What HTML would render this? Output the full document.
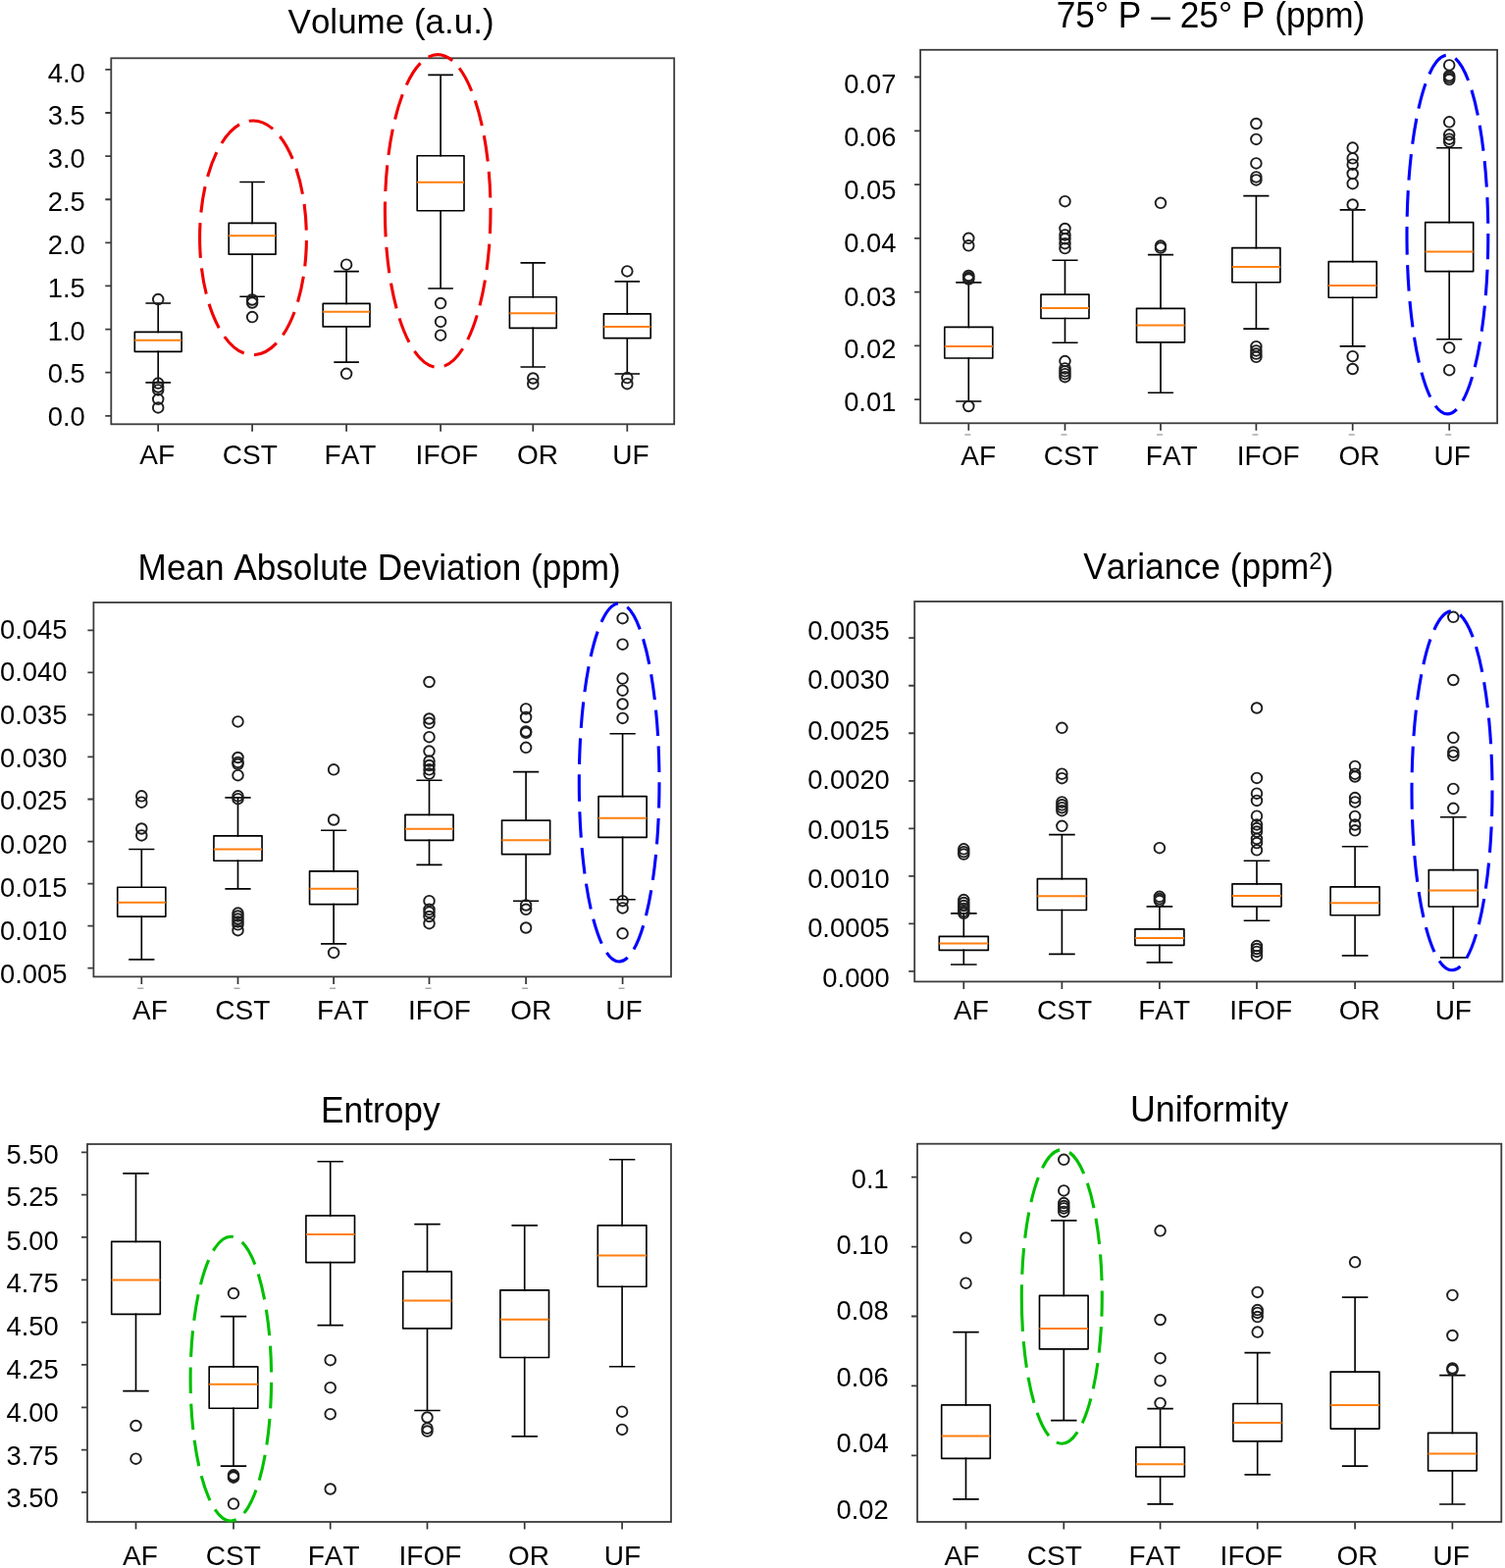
<!DOCTYPE html>
<html><head><meta charset="utf-8"><title>Box plots</title>
<style>
html,body{margin:0;padding:0;background:#fff;}
body{width:1534px;height:1598px;overflow:hidden;}
svg{display:block;}
text{font-family:"Liberation Sans",Arial,Helvetica,sans-serif;fill:#000;font-kerning:none;}
.t{font-size:35.5px;}
.yl{font-size:27.35px;}
.xl{font-size:28.0px;}
.tk{stroke:#3c3c3c;stroke-width:1.8;fill:none;}
.xt{stroke:#333;stroke-width:1.7;fill:none;}
.fd{stroke:#aaa;stroke-width:1.5;fill:none;}
.fr{stroke:#3c3c3c;stroke-width:1.8;fill:none;}
.bx{stroke:#000;stroke-width:1.65;fill:none;stroke-linejoin:round;}
.wk{stroke:#000;stroke-width:1.65;fill:none;stroke-linecap:square;}
.md{stroke:#ff7f0e;stroke-width:2.0;fill:none;}
.o{stroke:#1e1e1e;stroke-width:1.9;fill:none;}
.el{fill:none;stroke-width:3.1;}
</style></head>
<body>
<svg width="1534" height="1598" viewBox="0 0 1534 1598">
<rect width="1534" height="1598" fill="#fff"/>
<text class="t" transform="translate(398.6 34.1) scale(1 1.025)" text-anchor="middle" style="font-size:35px">Volume (a.u.)</text>
<text class="yl" x="86.7" y="83.6" text-anchor="end">4.0</text>
<text class="yl" x="86.7" y="126.9" text-anchor="end">3.5</text>
<text class="yl" x="86.7" y="171" text-anchor="end">3.0</text>
<text class="yl" x="86.7" y="214.9" text-anchor="end">2.5</text>
<text class="yl" x="86.7" y="258.6" text-anchor="end">2.0</text>
<text class="yl" x="86.7" y="302.5" text-anchor="end">1.5</text>
<text class="yl" x="86.7" y="346.7" text-anchor="end">1.0</text>
<text class="yl" x="86.7" y="390.3" text-anchor="end">0.5</text>
<text class="yl" x="86.7" y="434.3" text-anchor="end">0.0</text>
<text class="xl" x="160.1" y="473" text-anchor="middle">AF</text>
<text class="xl" x="254.8" y="473" text-anchor="middle">CST</text>
<text class="xl" x="357" y="473" text-anchor="middle">FAT</text>
<text class="xl" x="455.5" y="473" text-anchor="middle">IFOF</text>
<text class="xl" x="548.1" y="473" text-anchor="middle">OR</text>
<text class="xl" x="643" y="473" text-anchor="middle">UF</text>
<path class="tk" d="M107.3 70.9H113.3M107.3 115.01H113.3M107.3 159.12H113.3M107.3 203.23H113.3M107.3 247.34H113.3M107.3 291.45H113.3M107.3 335.56H113.3M107.3 379.67H113.3M107.3 423.78H113.3"/>
<path class="xt" d="M161.2 432.3V439.8M257.1 432.3V439.8M353.1 432.3V439.8M449.1 432.3V439.8M543.3 432.3V439.8M639.3 432.3V439.8"/>
<rect class="fr" x="113.3" y="59.3" width="573.9" height="373"/>
<path class="wk" d="M161.2 309V338.4 M161.2 358.3V389.8 M149.25 309H173.15 M149.25 389.8H173.15"/>
<rect class="bx" x="137.3" y="338.4" width="47.8" height="19.9"/>
<path class="md" d="M137.3 346.8H185.1"/>
<circle class="o" cx="161.2" cy="305.1" r="5.3"/>
<circle class="o" cx="161.2" cy="390.6" r="5.3"/>
<circle class="o" cx="161.2" cy="394.5" r="5.3"/>
<circle class="o" cx="161.2" cy="397.4" r="5.3"/>
<circle class="o" cx="161.2" cy="406.8" r="5.3"/>
<circle class="o" cx="161.2" cy="415.4" r="5.3"/>
<path class="wk" d="M257.1 185.5V227.4 M257.1 259.2V302.2 M245.15 185.5H269.05 M245.15 302.2H269.05"/>
<rect class="bx" x="233.2" y="227.4" width="47.8" height="31.8"/>
<path class="md" d="M233.2 240.3H281"/>
<circle class="o" cx="257.1" cy="305.5" r="5.3"/>
<circle class="o" cx="257.1" cy="308.5" r="5.3"/>
<circle class="o" cx="257.1" cy="323.1" r="5.3"/>
<path class="wk" d="M353.1 276.6V309.4 M353.1 332.9V369.1 M341.15 276.6H365.05 M341.15 369.1H365.05"/>
<rect class="bx" x="329.2" y="309.4" width="47.8" height="23.5"/>
<path class="md" d="M329.2 317.8H377"/>
<circle class="o" cx="353.1" cy="269.7" r="5.3"/>
<circle class="o" cx="353.1" cy="380.8" r="5.3"/>
<path class="wk" d="M449.1 76.3V158.7 M449.1 214.7V294 M437.15 76.3H461.05 M437.15 294H461.05"/>
<rect class="bx" x="425.2" y="158.7" width="47.8" height="56"/>
<path class="md" d="M425.2 185.8H473"/>
<circle class="o" cx="449.1" cy="309.1" r="5.3"/>
<circle class="o" cx="449.1" cy="327.9" r="5.3"/>
<circle class="o" cx="449.1" cy="341.7" r="5.3"/>
<path class="wk" d="M543.3 267.9V302.7 M543.3 334.4V374 M531.35 267.9H555.25 M531.35 374H555.25"/>
<rect class="bx" x="519.4" y="302.7" width="47.8" height="31.7"/>
<path class="md" d="M519.4 319.2H567.2"/>
<circle class="o" cx="543.3" cy="385.5" r="5.3"/>
<circle class="o" cx="543.3" cy="391.2" r="5.3"/>
<path class="wk" d="M639.3 286.9V319.8 M639.3 344.7V381 M627.35 286.9H651.25 M627.35 381H651.25"/>
<rect class="bx" x="615.4" y="319.8" width="47.8" height="24.9"/>
<path class="md" d="M615.4 333H663.2"/>
<circle class="o" cx="639.3" cy="276.4" r="5.3"/>
<circle class="o" cx="639.3" cy="385.1" r="5.3"/>
<circle class="o" cx="639.3" cy="391.2" r="5.3"/>
<path class="el" d="M203.6 242.35 A54.4 119.4 0 0 0 258 361.75 A54.4 119.4 0 0 0 312.4 242.35 A54.4 119.4 0 0 0 258 122.95 A54.4 119.4 0 0 0 203.6 242.35" stroke="#f00000" pathLength="565.275" stroke-dasharray="20.67 10.49 26.56 10.49 26.56 10.49 26.56 10.49 26.56 10.49 26.56 10.49 26.56 10.49 26.56 10.49 26.56 10.49 26.56 10.49 26.56 10.49 26.56 10.49 26.56 10.49 26.56 10.49 26.56 10.49 18.46 50.00"/>
<path class="el" d="M392.4 214.95 A53.8 159.35 0 0 0 446.2 374.3 A53.8 159.35 0 0 0 500 214.95 A53.8 159.35 0 0 0 446.2 55.6 A53.8 159.35 0 0 0 392.4 214.95" stroke="#f00000" pathLength="711.353" stroke-dasharray="26.46 10.45 26.48 10.45 26.48 10.45 26.48 10.45 26.48 10.45 26.48 10.45 26.48 10.45 26.48 10.45 26.48 10.45 26.48 10.45 26.48 10.45 26.48 10.45 26.48 10.45 26.48 10.45 26.48 10.45 26.48 10.45 26.48 10.45 26.48 10.45 26.48 10.45 12.60 50.00"/>
<text class="t" transform="translate(1234 27.7) scale(1 1.025)" text-anchor="middle" style="font-size:35.3px">75° P – 25° P (ppm)</text>
<text class="yl" x="913.4" y="95.4" text-anchor="end">0.07</text>
<text class="yl" x="913.4" y="148.9" text-anchor="end">0.06</text>
<text class="yl" x="913.4" y="203" text-anchor="end">0.05</text>
<text class="yl" x="913.4" y="257.4" text-anchor="end">0.04</text>
<text class="yl" x="913.4" y="311.5" text-anchor="end">0.03</text>
<text class="yl" x="913.4" y="365.3" text-anchor="end">0.02</text>
<text class="yl" x="913.4" y="419.3" text-anchor="end">0.01</text>
<text class="xl" x="997.2" y="474" text-anchor="middle">AF</text>
<text class="xl" x="1091.8" y="474" text-anchor="middle">CST</text>
<text class="xl" x="1194.3" y="474" text-anchor="middle">FAT</text>
<text class="xl" x="1292.7" y="474" text-anchor="middle">IFOF</text>
<text class="xl" x="1385.6" y="474" text-anchor="middle">OR</text>
<text class="xl" x="1480.2" y="474" text-anchor="middle">UF</text>
<path class="tk" d="M932.1 78.5H938.1M932.1 133.28H938.1M932.1 188.06H938.1M932.1 242.84H938.1M932.1 297.62H938.1M932.1 352.4H938.1M932.1 407.18H938.1"/>
<path class="xt" d="M987.3 431.3V438.8M1085.5 431.3V438.8M1183 431.3V438.8M1280.4 431.3V438.8M1378.7 431.3V438.8M1477.2 431.3V438.8"/>
<path class="fd" d="M983.3 443.1H989.3M1081.5 443.1H1087.5M1179 443.1H1185M1276.4 443.1H1282.4M1374.7 443.1H1380.7M1473.2 443.1H1479.2"/>
<rect class="fr" x="938.1" y="50.8" width="588" height="380.5"/>
<path class="wk" d="M987.3 287.9V333.3 M987.3 365V409 M975.05 287.9H999.55 M975.05 409H999.55"/>
<rect class="bx" x="962.8" y="333.3" width="49" height="31.7"/>
<path class="md" d="M962.8 352.9H1011.8"/>
<circle class="o" cx="987.3" cy="242.8" r="5.3"/>
<circle class="o" cx="987.3" cy="250.3" r="5.3"/>
<circle class="o" cx="987.3" cy="281" r="5.3"/>
<circle class="o" cx="987.3" cy="283" r="5.3"/>
<circle class="o" cx="987.3" cy="284.5" r="5.3"/>
<circle class="o" cx="987.3" cy="414" r="5.3"/>
<path class="wk" d="M1085.5 265.2V300.1 M1085.5 324.5V349.2 M1073.25 265.2H1097.75 M1073.25 349.2H1097.75"/>
<rect class="bx" x="1061" y="300.1" width="49" height="24.4"/>
<path class="md" d="M1061 314.1H1110"/>
<circle class="o" cx="1085.5" cy="205.2" r="5.3"/>
<circle class="o" cx="1085.5" cy="233" r="5.3"/>
<circle class="o" cx="1085.5" cy="239.4" r="5.3"/>
<circle class="o" cx="1085.5" cy="243.3" r="5.3"/>
<circle class="o" cx="1085.5" cy="248.2" r="5.3"/>
<circle class="o" cx="1085.5" cy="253.1" r="5.3"/>
<circle class="o" cx="1085.5" cy="368.1" r="5.3"/>
<circle class="o" cx="1085.5" cy="375.4" r="5.3"/>
<circle class="o" cx="1085.5" cy="378.3" r="5.3"/>
<circle class="o" cx="1085.5" cy="381.2" r="5.3"/>
<circle class="o" cx="1085.5" cy="384.2" r="5.3"/>
<path class="wk" d="M1183 259.6V314.3 M1183 348.8V400.2 M1170.75 259.6H1195.25 M1170.75 400.2H1195.25"/>
<rect class="bx" x="1158.5" y="314.3" width="49" height="34.5"/>
<path class="md" d="M1158.5 331.5H1207.5"/>
<circle class="o" cx="1183" cy="206.8" r="5.3"/>
<circle class="o" cx="1183" cy="250.6" r="5.3"/>
<circle class="o" cx="1183" cy="252.6" r="5.3"/>
<path class="wk" d="M1280.4 199.6V252.6 M1280.4 287.7V335.1 M1268.15 199.6H1292.65 M1268.15 335.1H1292.65"/>
<rect class="bx" x="1255.9" y="252.6" width="49" height="35.1"/>
<path class="md" d="M1255.9 271.9H1304.9"/>
<circle class="o" cx="1280.4" cy="126" r="5.3"/>
<circle class="o" cx="1280.4" cy="141.9" r="5.3"/>
<circle class="o" cx="1280.4" cy="166.4" r="5.3"/>
<circle class="o" cx="1280.4" cy="180.4" r="5.3"/>
<circle class="o" cx="1280.4" cy="183.4" r="5.3"/>
<circle class="o" cx="1280.4" cy="353.2" r="5.3"/>
<circle class="o" cx="1280.4" cy="357.4" r="5.3"/>
<circle class="o" cx="1280.4" cy="360.6" r="5.3"/>
<circle class="o" cx="1280.4" cy="363.8" r="5.3"/>
<path class="wk" d="M1378.7 213.8V266.6 M1378.7 303.2V352.8 M1366.45 213.8H1390.95 M1366.45 352.8H1390.95"/>
<rect class="bx" x="1354.2" y="266.6" width="49" height="36.6"/>
<path class="md" d="M1354.2 291.1H1403.2"/>
<circle class="o" cx="1378.7" cy="150.6" r="5.3"/>
<circle class="o" cx="1378.7" cy="161.3" r="5.3"/>
<circle class="o" cx="1378.7" cy="167.7" r="5.3"/>
<circle class="o" cx="1378.7" cy="177" r="5.3"/>
<circle class="o" cx="1378.7" cy="187.2" r="5.3"/>
<circle class="o" cx="1378.7" cy="208.5" r="5.3"/>
<circle class="o" cx="1378.7" cy="363.2" r="5.3"/>
<circle class="o" cx="1378.7" cy="376" r="5.3"/>
<path class="wk" d="M1477.2 150.7V226.6 M1477.2 276.6V345.7 M1464.95 150.7H1489.45 M1464.95 345.7H1489.45"/>
<rect class="bx" x="1452.7" y="226.6" width="49" height="50"/>
<path class="md" d="M1452.7 256.4H1501.7"/>
<circle class="o" cx="1477.2" cy="66.4" r="5.3"/>
<circle class="o" cx="1477.2" cy="77.2" r="5.3"/>
<circle class="o" cx="1477.2" cy="79.1" r="5.3"/>
<circle class="o" cx="1477.2" cy="81.1" r="5.3"/>
<circle class="o" cx="1477.2" cy="124.3" r="5.3"/>
<circle class="o" cx="1477.2" cy="137.3" r="5.3"/>
<circle class="o" cx="1477.2" cy="141.7" r="5.3"/>
<circle class="o" cx="1477.2" cy="144.6" r="5.3"/>
<circle class="o" cx="1477.2" cy="354.3" r="5.3"/>
<circle class="o" cx="1477.2" cy="377.2" r="5.3"/>
<path class="el" d="M1434 239.05 A41.4 182.85 0 0 0 1475.4 421.9 A41.4 182.85 0 0 0 1516.8 239.05 A41.4 182.85 0 0 0 1475.4 56.2 A41.4 182.85 0 0 0 1434 239.05" stroke="#0000ff" pathLength="776.527" stroke-dasharray="20.75 10.43 26.43 10.43 26.43 10.43 26.43 10.43 26.43 10.43 26.43 10.43 26.43 10.43 26.43 10.43 26.43 10.43 26.43 10.43 26.43 10.43 26.43 10.43 26.43 10.43 26.43 10.43 26.43 10.43 26.43 10.43 26.43 10.43 26.43 10.43 26.43 10.43 26.43 10.43 26.43 10.43 11.20 50.00"/>
<text class="t" transform="translate(386.7 591.1) scale(1 1.025)" text-anchor="middle" style="font-size:35.15px">Mean Absolute Deviation (ppm)</text>
<text class="yl" x="68.5" y="650.7" text-anchor="end">0.045</text>
<text class="yl" x="68.5" y="694.3" text-anchor="end">0.040</text>
<text class="yl" x="68.5" y="737.8" text-anchor="end">0.035</text>
<text class="yl" x="68.5" y="781.8" text-anchor="end">0.030</text>
<text class="yl" x="68.5" y="824.8" text-anchor="end">0.025</text>
<text class="yl" x="68.5" y="870" text-anchor="end">0.020</text>
<text class="yl" x="68.5" y="914" text-anchor="end">0.015</text>
<text class="yl" x="68.5" y="958" text-anchor="end">0.010</text>
<text class="yl" x="68.5" y="1002" text-anchor="end">0.005</text>
<text class="xl" x="152.9" y="1038.5" text-anchor="middle">AF</text>
<text class="xl" x="247.3" y="1038.5" text-anchor="middle">CST</text>
<text class="xl" x="349.5" y="1038.5" text-anchor="middle">FAT</text>
<text class="xl" x="447.9" y="1038.5" text-anchor="middle">IFOF</text>
<text class="xl" x="541.2" y="1038.5" text-anchor="middle">OR</text>
<text class="xl" x="635.9" y="1038.5" text-anchor="middle">UF</text>
<path class="tk" d="M89.4 642.3H95.4M89.4 685.35H95.4M89.4 728.4H95.4M89.4 771.45H95.4M89.4 814.5H95.4M89.4 857.55H95.4M89.4 900.6H95.4M89.4 943.65H95.4M89.4 986.7H95.4"/>
<path class="xt" d="M144.3 995.4V1002.9M242.5 995.4V1002.9M340.1 995.4V1002.9M437.5 995.4V1002.9M536.1 995.4V1002.9M634.6 995.4V1002.9"/>
<path class="fd" d="M140.3 1007.2H146.3M238.5 1007.2H244.5M336.1 1007.2H342.1M433.5 1007.2H439.5M532.1 1007.2H538.1M630.6 1007.2H636.6"/>
<rect class="fr" x="95.4" y="614" width="588.6" height="381.4"/>
<path class="wk" d="M144.3 865.5V904.2 M144.3 934.1V977.9 M132.03 865.5H156.58 M132.03 977.9H156.58"/>
<rect class="bx" x="119.75" y="904.2" width="49.1" height="29.9"/>
<path class="md" d="M119.75 919.8H168.85"/>
<circle class="o" cx="144.3" cy="811.3" r="5.3"/>
<circle class="o" cx="144.3" cy="817.7" r="5.3"/>
<circle class="o" cx="144.3" cy="844.5" r="5.3"/>
<circle class="o" cx="144.3" cy="851.4" r="5.3"/>
<path class="wk" d="M242.5 812.9V851.8 M242.5 877.2V905.8 M230.22 812.9H254.78 M230.22 905.8H254.78"/>
<rect class="bx" x="217.95" y="851.8" width="49.1" height="25.4"/>
<path class="md" d="M217.95 865.5H267.05"/>
<circle class="o" cx="242.5" cy="735.4" r="5.3"/>
<circle class="o" cx="242.5" cy="772" r="5.3"/>
<circle class="o" cx="242.5" cy="776.9" r="5.3"/>
<circle class="o" cx="242.5" cy="778.8" r="5.3"/>
<circle class="o" cx="242.5" cy="790.2" r="5.3"/>
<circle class="o" cx="242.5" cy="811.3" r="5.3"/>
<circle class="o" cx="242.5" cy="814.2" r="5.3"/>
<circle class="o" cx="242.5" cy="930.6" r="5.3"/>
<circle class="o" cx="242.5" cy="933.5" r="5.3"/>
<circle class="o" cx="242.5" cy="936.5" r="5.3"/>
<circle class="o" cx="242.5" cy="939.4" r="5.3"/>
<circle class="o" cx="242.5" cy="942.3" r="5.3"/>
<circle class="o" cx="242.5" cy="948.2" r="5.3"/>
<path class="wk" d="M340.1 846.2V887.9 M340.1 921.6V961.9 M327.83 846.2H352.38 M327.83 961.9H352.38"/>
<rect class="bx" x="315.55" y="887.9" width="49.1" height="33.7"/>
<path class="md" d="M315.55 905.8H364.65"/>
<circle class="o" cx="340.1" cy="784.3" r="5.3"/>
<circle class="o" cx="340.1" cy="835.5" r="5.3"/>
<circle class="o" cx="340.1" cy="970.9" r="5.3"/>
<path class="wk" d="M437.5 795.2V830.3 M437.5 856.3V881.3 M425.23 795.2H449.77 M425.23 881.3H449.77"/>
<rect class="bx" x="412.95" y="830.3" width="49.1" height="26"/>
<path class="md" d="M412.95 844.7H462.05"/>
<circle class="o" cx="437.5" cy="695" r="5.3"/>
<circle class="o" cx="437.5" cy="732.5" r="5.3"/>
<circle class="o" cx="437.5" cy="736.8" r="5.3"/>
<circle class="o" cx="437.5" cy="751.2" r="5.3"/>
<circle class="o" cx="437.5" cy="765.6" r="5.3"/>
<circle class="o" cx="437.5" cy="775.6" r="5.3"/>
<circle class="o" cx="437.5" cy="780" r="5.3"/>
<circle class="o" cx="437.5" cy="784.3" r="5.3"/>
<circle class="o" cx="437.5" cy="788.6" r="5.3"/>
<circle class="o" cx="437.5" cy="918.2" r="5.3"/>
<circle class="o" cx="437.5" cy="926.8" r="5.3"/>
<circle class="o" cx="437.5" cy="929.7" r="5.3"/>
<circle class="o" cx="437.5" cy="934" r="5.3"/>
<circle class="o" cx="437.5" cy="941.2" r="5.3"/>
<path class="wk" d="M536.1 786.6V836.1 M536.1 870.7V918.2 M523.83 786.6H548.38 M523.83 918.2H548.38"/>
<rect class="bx" x="511.55" y="836.1" width="49.1" height="34.6"/>
<path class="md" d="M511.55 856.3H560.65"/>
<circle class="o" cx="536.1" cy="722.4" r="5.3"/>
<circle class="o" cx="536.1" cy="731" r="5.3"/>
<circle class="o" cx="536.1" cy="745.4" r="5.3"/>
<circle class="o" cx="536.1" cy="746.8" r="5.3"/>
<circle class="o" cx="536.1" cy="761.8" r="5.3"/>
<circle class="o" cx="536.1" cy="922.5" r="5.3"/>
<circle class="o" cx="536.1" cy="926.8" r="5.3"/>
<circle class="o" cx="536.1" cy="945.5" r="5.3"/>
<path class="wk" d="M634.6 747.7V811.6 M634.6 853.4V916.7 M622.33 747.7H646.88 M622.33 916.7H646.88"/>
<rect class="bx" x="610.05" y="811.6" width="49.1" height="41.8"/>
<path class="md" d="M610.05 833.8H659.15"/>
<circle class="o" cx="634.6" cy="630.2" r="5.3"/>
<circle class="o" cx="634.6" cy="656.7" r="5.3"/>
<circle class="o" cx="634.6" cy="691.6" r="5.3"/>
<circle class="o" cx="634.6" cy="703.7" r="5.3"/>
<circle class="o" cx="634.6" cy="717.5" r="5.3"/>
<circle class="o" cx="634.6" cy="731.9" r="5.3"/>
<circle class="o" cx="634.6" cy="918.2" r="5.3"/>
<circle class="o" cx="634.6" cy="925.4" r="5.3"/>
<circle class="o" cx="634.6" cy="951.3" r="5.3"/>
<path class="el" d="M590.3 797.5 A40.85 182.5 0 0 0 631.15 980 A40.85 182.5 0 0 0 672 797.5 A40.85 182.5 0 0 0 631.15 615 A40.85 182.5 0 0 0 590.3 797.5" stroke="#0000ff" pathLength="774.218" stroke-dasharray="19.40 10.42 26.38 10.42 26.38 10.42 26.38 10.42 26.38 10.42 26.38 10.42 26.38 10.42 26.38 10.42 26.38 10.42 26.38 10.42 26.38 10.42 26.38 10.42 26.38 10.42 26.38 10.42 26.38 10.42 26.38 10.42 26.38 10.42 26.38 10.42 26.38 10.42 26.38 10.42 26.38 10.42 11.40 50.00"/>
<text class="t" transform="translate(1104.2 589.7) scale(1 1.025)" text-anchor="start" style="font-size:35.4px">Variance (ppm<tspan font-size='23.5' dy='-9.6'>2</tspan><tspan dy='9.6'>)</tspan></text>
<text class="yl" x="906.8" y="651.8" text-anchor="end">0.0035</text>
<text class="yl" x="906.8" y="702.1" text-anchor="end">0.0030</text>
<text class="yl" x="906.8" y="753.5" text-anchor="end">0.0025</text>
<text class="yl" x="906.8" y="803.8" text-anchor="end">0.0020</text>
<text class="yl" x="906.8" y="854.5" text-anchor="end">0.0015</text>
<text class="yl" x="906.8" y="905" text-anchor="end">0.0010</text>
<text class="yl" x="906.8" y="955.3" text-anchor="end">0.0005</text>
<text class="yl" x="906.8" y="1006.1" text-anchor="end">0.000</text>
<text class="xl" x="990" y="1039.4" text-anchor="middle">AF</text>
<text class="xl" x="1085" y="1039.4" text-anchor="middle">CST</text>
<text class="xl" x="1186.6" y="1039.4" text-anchor="middle">FAT</text>
<text class="xl" x="1285.2" y="1039.4" text-anchor="middle">IFOF</text>
<text class="xl" x="1385.8" y="1039.4" text-anchor="middle">OR</text>
<text class="xl" x="1481.3" y="1039.4" text-anchor="middle">UF</text>
<path class="tk" d="M926.2 650.2H932.2M926.2 698.73H932.2M926.2 747.26H932.2M926.2 795.79H932.2M926.2 844.32H932.2M926.2 892.85H932.2M926.2 941.38H932.2M926.2 989.91H932.2"/>
<path class="xt" d="M982.3 1000.4V1007.9M1082.4 1000.4V1007.9M1181.9 1000.4V1007.9M1281 1000.4V1007.9M1381.1 1000.4V1007.9M1481.3 1000.4V1007.9"/>
<rect class="fr" x="932.2" y="613" width="599.2" height="387.4"/>
<path class="wk" d="M982.3 930.8V954.3 M982.3 968.4V983 M969.8 930.8H994.8 M969.8 983H994.8"/>
<rect class="bx" x="957.3" y="954.3" width="50" height="14.1"/>
<path class="md" d="M957.3 961.5H1007.3"/>
<circle class="o" cx="982.3" cy="865.3" r="5.3"/>
<circle class="o" cx="982.3" cy="868.2" r="5.3"/>
<circle class="o" cx="982.3" cy="870.6" r="5.3"/>
<circle class="o" cx="982.3" cy="917.1" r="5.3"/>
<circle class="o" cx="982.3" cy="920.1" r="5.3"/>
<circle class="o" cx="982.3" cy="923" r="5.3"/>
<circle class="o" cx="982.3" cy="925.9" r="5.3"/>
<circle class="o" cx="982.3" cy="928.9" r="5.3"/>
<circle class="o" cx="982.3" cy="930.8" r="5.3"/>
<path class="wk" d="M1082.4 850.6V895.6 M1082.4 927.5V972.3 M1069.9 850.6H1094.9 M1069.9 972.3H1094.9"/>
<rect class="bx" x="1057.4" y="895.6" width="50" height="31.9"/>
<path class="md" d="M1057.4 913.2H1107.4"/>
<circle class="o" cx="1082.4" cy="741.8" r="5.3"/>
<circle class="o" cx="1082.4" cy="788.7" r="5.3"/>
<circle class="o" cx="1082.4" cy="793.2" r="5.3"/>
<circle class="o" cx="1082.4" cy="817.4" r="5.3"/>
<circle class="o" cx="1082.4" cy="820.3" r="5.3"/>
<circle class="o" cx="1082.4" cy="823.2" r="5.3"/>
<circle class="o" cx="1082.4" cy="826.2" r="5.3"/>
<circle class="o" cx="1082.4" cy="841.8" r="5.3"/>
<path class="wk" d="M1181.9 923.8V946.9 M1181.9 963.3V980.8 M1169.4 923.8H1194.4 M1169.4 980.8H1194.4"/>
<rect class="bx" x="1156.9" y="946.9" width="50" height="16.4"/>
<path class="md" d="M1156.9 956.1H1206.9"/>
<circle class="o" cx="1181.9" cy="864.2" r="5.3"/>
<circle class="o" cx="1181.9" cy="913.8" r="5.3"/>
<circle class="o" cx="1181.9" cy="916.1" r="5.3"/>
<circle class="o" cx="1181.9" cy="918.1" r="5.3"/>
<path class="wk" d="M1281 877.2V900.8 M1281 923.8V938.2 M1268.5 877.2H1293.5 M1268.5 938.2H1293.5"/>
<rect class="bx" x="1256" y="900.8" width="50" height="23"/>
<path class="md" d="M1256 912.9H1306"/>
<circle class="o" cx="1281" cy="721.5" r="5.3"/>
<circle class="o" cx="1281" cy="792.9" r="5.3"/>
<circle class="o" cx="1281" cy="808.7" r="5.3"/>
<circle class="o" cx="1281" cy="815.9" r="5.3"/>
<circle class="o" cx="1281" cy="831.7" r="5.3"/>
<circle class="o" cx="1281" cy="840.4" r="5.3"/>
<circle class="o" cx="1281" cy="844.1" r="5.3"/>
<circle class="o" cx="1281" cy="847.6" r="5.3"/>
<circle class="o" cx="1281" cy="854.8" r="5.3"/>
<circle class="o" cx="1281" cy="859.1" r="5.3"/>
<circle class="o" cx="1281" cy="866.3" r="5.3"/>
<circle class="o" cx="1281" cy="964.1" r="5.3"/>
<circle class="o" cx="1281" cy="967" r="5.3"/>
<circle class="o" cx="1281" cy="969.9" r="5.3"/>
<circle class="o" cx="1281" cy="974.2" r="5.3"/>
<path class="wk" d="M1381.1 862.7V903.9 M1381.1 932.7V973.8 M1368.6 862.7H1393.6 M1368.6 973.8H1393.6"/>
<rect class="bx" x="1356.1" y="903.9" width="50" height="28.8"/>
<path class="md" d="M1356.1 920.3H1406.1"/>
<circle class="o" cx="1381.1" cy="780.9" r="5.3"/>
<circle class="o" cx="1381.1" cy="788.7" r="5.3"/>
<circle class="o" cx="1381.1" cy="791.5" r="5.3"/>
<circle class="o" cx="1381.1" cy="813.1" r="5.3"/>
<circle class="o" cx="1381.1" cy="817.4" r="5.3"/>
<circle class="o" cx="1381.1" cy="831.9" r="5.3"/>
<circle class="o" cx="1381.1" cy="840.5" r="5.3"/>
<circle class="o" cx="1381.1" cy="846.3" r="5.3"/>
<path class="wk" d="M1481.3 832.7V886.6 M1481.3 924V975.9 M1468.8 832.7H1493.8 M1468.8 975.9H1493.8"/>
<rect class="bx" x="1456.3" y="886.6" width="50" height="37.4"/>
<path class="md" d="M1456.3 907.6H1506.3"/>
<circle class="o" cx="1481.3" cy="628.8" r="5.3"/>
<circle class="o" cx="1481.3" cy="693" r="5.3"/>
<circle class="o" cx="1481.3" cy="751.8" r="5.3"/>
<circle class="o" cx="1481.3" cy="766.5" r="5.3"/>
<circle class="o" cx="1481.3" cy="769.9" r="5.3"/>
<circle class="o" cx="1481.3" cy="803.9" r="5.3"/>
<circle class="o" cx="1481.3" cy="823.8" r="5.3"/>
<path class="el" d="M1439 805.8 A41 183 0 0 0 1480 988.8 A41 183 0 0 0 1521 805.8 A41 183 0 0 0 1480 622.8 A41 183 0 0 0 1439 805.8" stroke="#0000ff" pathLength="776.406" stroke-dasharray="19.10 10.45 26.48 10.45 26.48 10.45 26.48 10.45 26.48 10.45 26.48 10.45 26.48 10.45 26.48 10.45 26.48 10.45 26.48 10.45 26.48 10.45 26.48 10.45 26.48 10.45 26.48 10.45 26.48 10.45 26.48 10.45 26.48 10.45 26.48 10.45 26.48 10.45 26.48 10.45 26.48 10.45 11.20 50.00"/>
<text class="t" transform="translate(387.8 1143.7) scale(1 1.025)" text-anchor="middle" style="font-size:35.3px">Entropy</text>
<text class="yl" x="59.7" y="1185.5" text-anchor="end">5.50</text>
<text class="yl" x="59.7" y="1229.1" text-anchor="end">5.25</text>
<text class="yl" x="59.7" y="1273.5" text-anchor="end">5.00</text>
<text class="yl" x="59.7" y="1317.1" text-anchor="end">4.75</text>
<text class="yl" x="59.7" y="1360.8" text-anchor="end">4.50</text>
<text class="yl" x="59.7" y="1404.5" text-anchor="end">4.25</text>
<text class="yl" x="59.7" y="1448.5" text-anchor="end">4.00</text>
<text class="yl" x="59.7" y="1492.6" text-anchor="end">3.75</text>
<text class="yl" x="59.7" y="1536.2" text-anchor="end">3.50</text>
<text class="xl" x="143" y="1594.5" text-anchor="middle">AF</text>
<text class="xl" x="237.8" y="1594.5" text-anchor="middle">CST</text>
<text class="xl" x="340.1" y="1594.5" text-anchor="middle">FAT</text>
<text class="xl" x="438.4" y="1594.5" text-anchor="middle">IFOF</text>
<text class="xl" x="539.1" y="1594.5" text-anchor="middle">OR</text>
<text class="xl" x="634.4" y="1594.5" text-anchor="middle">UF</text>
<path class="tk" d="M83 1174.3H89M83 1217.63H89M83 1260.96H89M83 1304.29H89M83 1347.62H89M83 1390.95H89M83 1434.28H89M83 1477.61H89M83 1520.94H89"/>
<path class="xt" d="M138.5 1551V1558.5M238 1551V1558.5M336.7 1551V1558.5M435.5 1551V1558.5M534.7 1551V1558.5M634.1 1551V1558.5"/>
<rect class="fr" x="89" y="1166" width="595" height="385"/>
<path class="wk" d="M138.5 1195.8V1265.3 M138.5 1339.3V1417.6 M126.1 1195.8H150.9 M126.1 1417.6H150.9"/>
<rect class="bx" x="113.7" y="1265.3" width="49.6" height="74"/>
<path class="md" d="M113.7 1304.4H163.3"/>
<circle class="o" cx="138.5" cy="1453" r="5.3"/>
<circle class="o" cx="138.5" cy="1486.7" r="5.3"/>
<path class="wk" d="M238 1341.6V1392.8 M238 1435.2V1494.1 M225.6 1341.6H250.4 M225.6 1494.1H250.4"/>
<rect class="bx" x="213.2" y="1392.8" width="49.6" height="42.4"/>
<path class="md" d="M213.2 1410.8H262.8"/>
<circle class="o" cx="238" cy="1318.1" r="5.3"/>
<circle class="o" cx="238" cy="1503.3" r="5.3"/>
<circle class="o" cx="238" cy="1504.5" r="5.3"/>
<circle class="o" cx="238" cy="1505.7" r="5.3"/>
<circle class="o" cx="238" cy="1532.6" r="5.3"/>
<path class="wk" d="M336.7 1183.7V1238.9 M336.7 1286.6V1350.6 M324.3 1183.7H349.1 M324.3 1350.6H349.1"/>
<rect class="bx" x="311.9" y="1238.9" width="49.6" height="47.7"/>
<path class="md" d="M311.9 1258H361.5"/>
<circle class="o" cx="336.7" cy="1386.2" r="5.3"/>
<circle class="o" cx="336.7" cy="1414.2" r="5.3"/>
<circle class="o" cx="336.7" cy="1441.2" r="5.3"/>
<circle class="o" cx="336.7" cy="1517.5" r="5.3"/>
<path class="wk" d="M435.5 1247.6V1295.9 M435.5 1353.9V1437.5 M423.1 1247.6H447.9 M423.1 1437.5H447.9"/>
<rect class="bx" x="410.7" y="1295.9" width="49.6" height="58"/>
<path class="md" d="M410.7 1325.6H460.3"/>
<circle class="o" cx="435.5" cy="1444.5" r="5.3"/>
<circle class="o" cx="435.5" cy="1455.7" r="5.3"/>
<circle class="o" cx="435.5" cy="1458.6" r="5.3"/>
<path class="wk" d="M534.7 1248.9V1314.8 M534.7 1383.5V1463.9 M522.3 1248.9H547.1 M522.3 1463.9H547.1"/>
<rect class="bx" x="509.9" y="1314.8" width="49.6" height="68.7"/>
<path class="md" d="M509.9 1344.8H559.5"/>
<path class="wk" d="M634.1 1181.7V1248.9 M634.1 1311.2V1392.7 M621.7 1181.7H646.5 M621.7 1392.7H646.5"/>
<rect class="bx" x="609.3" y="1248.9" width="49.6" height="62.3"/>
<path class="md" d="M609.3 1279.5H658.9"/>
<circle class="o" cx="634.1" cy="1438.7" r="5.3"/>
<circle class="o" cx="634.1" cy="1456.9" r="5.3"/>
<path class="el" d="M194.1 1405.1 A41.25 144.9 0 0 0 235.35 1550 A41.25 144.9 0 0 0 276.6 1405.1 A41.25 144.9 0 0 0 235.35 1260.2 A41.25 144.9 0 0 0 194.1 1405.1" stroke="#00c000" pathLength="631.092" stroke-dasharray="15.00 10.50 26.61 10.50 26.61 10.50 26.61 10.50 26.61 10.50 26.61 10.50 26.61 10.50 26.61 10.50 26.61 10.50 26.61 10.50 26.61 10.50 26.61 10.50 26.61 10.50 26.61 10.50 26.61 10.50 26.61 10.50 26.61 10.50 14.80 50.00"/>
<text class="t" transform="translate(1232.5 1143.4) scale(1 1.025)" text-anchor="middle" style="font-size:35.8px">Uniformity</text>
<text class="yl" x="905.7" y="1210.5" text-anchor="end">0.1</text>
<text class="yl" x="905.7" y="1278" text-anchor="end">0.10</text>
<text class="yl" x="905.7" y="1345.1" text-anchor="end">0.08</text>
<text class="yl" x="905.7" y="1413" text-anchor="end">0.06</text>
<text class="yl" x="905.7" y="1480.4" text-anchor="end">0.04</text>
<text class="yl" x="905.7" y="1548.3" text-anchor="end">0.02</text>
<text class="xl" x="980.4" y="1595.3" text-anchor="middle">AF</text>
<text class="xl" x="1074.8" y="1595.3" text-anchor="middle">CST</text>
<text class="xl" x="1177" y="1595.3" text-anchor="middle">FAT</text>
<text class="xl" x="1275.5" y="1595.3" text-anchor="middle">IFOF</text>
<text class="xl" x="1383.5" y="1595.3" text-anchor="middle">OR</text>
<text class="xl" x="1479.2" y="1595.3" text-anchor="middle">UF</text>
<path class="tk" d="M929 1199.7H935M929 1270.6H935M929 1341.5H935M929 1412.4H935M929 1483.3H935"/>
<path class="xt" d="M984.5 1551V1558.5M1084.3 1551V1558.5M1182.6 1551V1558.5M1281.7 1551V1558.5M1381.1 1551V1558.5M1480.4 1551V1558.5"/>
<rect class="fr" x="935" y="1165.7" width="595.3" height="385.3"/>
<path class="wk" d="M984.5 1357.6V1431.9 M984.5 1486.3V1527.8 M972.1 1357.6H996.9 M972.1 1527.8H996.9"/>
<rect class="bx" x="959.7" y="1431.9" width="49.6" height="54.4"/>
<path class="md" d="M959.7 1463.6H1009.3"/>
<circle class="o" cx="984.5" cy="1261.5" r="5.3"/>
<circle class="o" cx="984.5" cy="1307.7" r="5.3"/>
<path class="wk" d="M1084.3 1243.8V1320.4 M1084.3 1374.8V1447.6 M1071.9 1243.8H1096.7 M1071.9 1447.6H1096.7"/>
<rect class="bx" x="1059.5" y="1320.4" width="49.6" height="54.4"/>
<path class="md" d="M1059.5 1353.9H1109.1"/>
<circle class="o" cx="1084.3" cy="1181.8" r="5.3"/>
<circle class="o" cx="1084.3" cy="1213.4" r="5.3"/>
<circle class="o" cx="1084.3" cy="1226.1" r="5.3"/>
<circle class="o" cx="1084.3" cy="1229.1" r="5.3"/>
<circle class="o" cx="1084.3" cy="1231.4" r="5.3"/>
<circle class="o" cx="1084.3" cy="1234.9" r="5.3"/>
<path class="wk" d="M1182.6 1435.6V1474.8 M1182.6 1504.8V1532.9 M1170.2 1435.6H1195 M1170.2 1532.9H1195"/>
<rect class="bx" x="1157.8" y="1474.8" width="49.6" height="30"/>
<path class="md" d="M1157.8 1492.2H1207.4"/>
<circle class="o" cx="1182.6" cy="1254.3" r="5.3"/>
<circle class="o" cx="1182.6" cy="1345" r="5.3"/>
<circle class="o" cx="1182.6" cy="1384.2" r="5.3"/>
<circle class="o" cx="1182.6" cy="1407.2" r="5.3"/>
<circle class="o" cx="1182.6" cy="1429.9" r="5.3"/>
<path class="wk" d="M1281.7 1378.6V1430.5 M1281.7 1468.9V1502.9 M1269.3 1378.6H1294.1 M1269.3 1502.9H1294.1"/>
<rect class="bx" x="1256.9" y="1430.5" width="49.6" height="38.4"/>
<path class="md" d="M1256.9 1450.1H1306.5"/>
<circle class="o" cx="1281.7" cy="1316.9" r="5.3"/>
<circle class="o" cx="1281.7" cy="1335.1" r="5.3"/>
<circle class="o" cx="1281.7" cy="1337.9" r="5.3"/>
<circle class="o" cx="1281.7" cy="1342.1" r="5.3"/>
<circle class="o" cx="1281.7" cy="1357.6" r="5.3"/>
<path class="wk" d="M1381.1 1322.1V1398.1 M1381.1 1456.1V1494.1 M1368.7 1322.1H1393.5 M1368.7 1494.1H1393.5"/>
<rect class="bx" x="1356.3" y="1398.1" width="49.6" height="58"/>
<path class="md" d="M1356.3 1432.1H1405.9"/>
<circle class="o" cx="1381.1" cy="1286.3" r="5.3"/>
<path class="wk" d="M1480.4 1401.6V1460.4 M1480.4 1498.8V1533 M1468 1401.6H1492.8 M1468 1533H1492.8"/>
<rect class="bx" x="1455.6" y="1460.4" width="49.6" height="38.4"/>
<path class="md" d="M1455.6 1481.6H1505.2"/>
<circle class="o" cx="1480.4" cy="1319.9" r="5.3"/>
<circle class="o" cx="1480.4" cy="1361" r="5.3"/>
<circle class="o" cx="1480.4" cy="1394.4" r="5.3"/>
<circle class="o" cx="1480.4" cy="1396" r="5.3"/>
<path class="el" d="M1041.3 1321.5 A41 149.8 0 0 0 1082.3 1471.3 A41 149.8 0 0 0 1123.3 1321.5 A41 149.8 0 0 0 1082.3 1171.7 A41 149.8 0 0 0 1041.3 1321.5" stroke="#00c000" pathLength="649.226" stroke-dasharray="35.33 10.45 26.49 10.45 26.49 10.45 26.49 10.45 26.49 10.45 26.49 10.45 26.49 10.45 26.49 10.45 26.49 10.45 26.49 10.45 26.49 10.45 26.49 10.45 26.49 10.45 26.49 10.45 26.49 10.45 26.49 10.45 26.49 10.45 15.40 50.00"/>
</svg>
</body></html>
